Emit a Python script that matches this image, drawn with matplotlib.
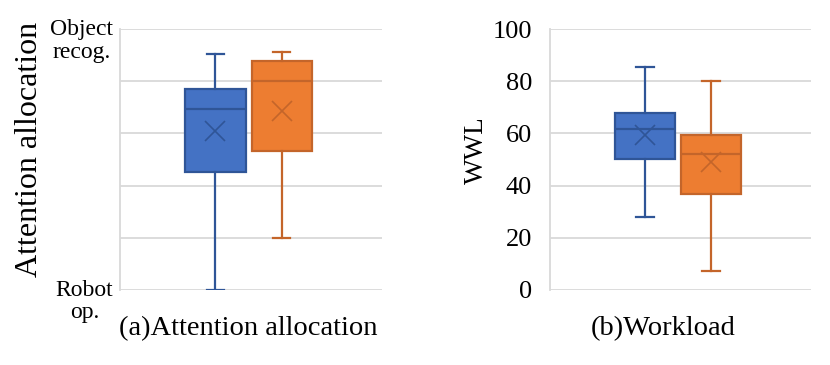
import matplotlib
matplotlib.use("Agg")
import matplotlib.pyplot as plt
import matplotlib.transforms as mtransforms

plt.rcParams["font.family"] = ["Liberation Serif", "DejaVu Serif"]

# ── data ──────────────────────────────────────────────────────────────────────
groups = ["Blue", "Orange"]
colors = ["#4472C4", "#ED7D31"]
edges = ["#2F5597", "#C4652A"]

# attention allocation: 0 = Robot op., 1 = Object recog.
att_whislo = [0.00, 0.20]
att_q1 = [0.451, 0.534]
att_med = [0.693, 0.803]
att_q3 = [0.772, 0.877]
att_whishi = [0.904, 0.912]
att_mean = [0.611, 0.686]

# workload (WWL)
wwl_whislo = [28.0, 7.0]
wwl_q1 = [50.3, 36.8]
wwl_med = [61.6, 52.0]
wwl_q3 = [68.0, 59.6]
wwl_whishi = [85.6, 80.0]
wwl_mean = [59.5, 49.2]


def stats(lo, q1, med, q3, hi, mean):
    return [dict(whislo=lo[i], q1=q1[i], med=med[i], q3=q3[i], whishi=hi[i],
                 mean=mean[i], fliers=[]) for i in range(len(lo))]


def draw(ax, st, ylim, yticks, labelsize):
    positions = [0.364, 0.617]
    for i, s in enumerate(st):
        ax.bxp([s], positions=[positions[i]], widths=0.23, patch_artist=True,
               showmeans=True, manage_ticks=False,
               boxprops=dict(facecolor=colors[i], edgecolor=edges[i], linewidth=1.6),
               medianprops=dict(color=edges[i], linewidth=1.6),
               whiskerprops=dict(color=edges[i], linewidth=1.6),
               capprops=dict(color=edges[i], linewidth=1.6),
               meanprops=dict(marker="x", markeredgecolor=edges[i], markersize=14,
                              markeredgewidth=1.2),
               capwidths=0.066, zorder=3)
    ax.set_xlim(0, 1)
    ax.set_ylim(*ylim)
    ax.set_yticks(yticks)
    ax.set_xticks([])
    ax.yaxis.grid(True, color="#d9d9d9", linewidth=1.3)
    ax.set_axisbelow(True)
    for sp in ["top", "right", "bottom"]:
        ax.spines[sp].set_visible(False)
    ax.spines["left"].set_color("#d9d9d9")
    ax.spines["left"].set_linewidth(1.3)
    ax.tick_params(axis="y", length=0, labelsize=labelsize)


fig = plt.figure(figsize=(8.3, 3.65), dpi=100)
ax1 = fig.add_axes([0.1446, 0.2063, 0.3157, 0.7134])
ax2 = fig.add_axes([0.6627, 0.2063, 0.3145, 0.7134])

draw(ax1, stats(att_whislo, att_q1, att_med, att_q3, att_whishi, att_mean),
     (0, 1), [0, 0.2, 0.4, 0.6, 0.8, 1.0], 17)
ax1.set_yticklabels(["Robot\nop.", "", "", "", "", "Object\nrecog."],
                    multialignment="center", linespacing=1.1)
ax1.tick_params(axis="y", pad=5)
# the two-line labels sit a little below their grid lines
off = mtransforms.ScaledTranslation(0, -6 / 72, fig.dpi_scale_trans)
for lbl in ax1.get_yticklabels():
    lbl.set_transform(lbl.get_transform() + off)

draw(ax2, stats(wwl_whislo, wwl_q1, wwl_med, wwl_q3, wwl_whishi, wwl_mean),
     (0, 100), [0, 20, 40, 60, 80, 100], 19)
ax2.tick_params(axis="y", pad=13)

fig.text(0.036, 0.59, "Attention allocation", rotation=90, ha="center",
         va="center", fontsize=23)
fig.text(0.574, 0.59, "WWL", rotation=90, ha="center", va="center", fontsize=19.5)
fig.text(0.2988, 0.101, "(a)Attention allocation", ha="center", va="center", fontsize=20.5)
fig.text(0.7988, 0.101, "(b)Workload", ha="center", va="center", fontsize=20.5)

fig.savefig("out.png", dpi=100)
